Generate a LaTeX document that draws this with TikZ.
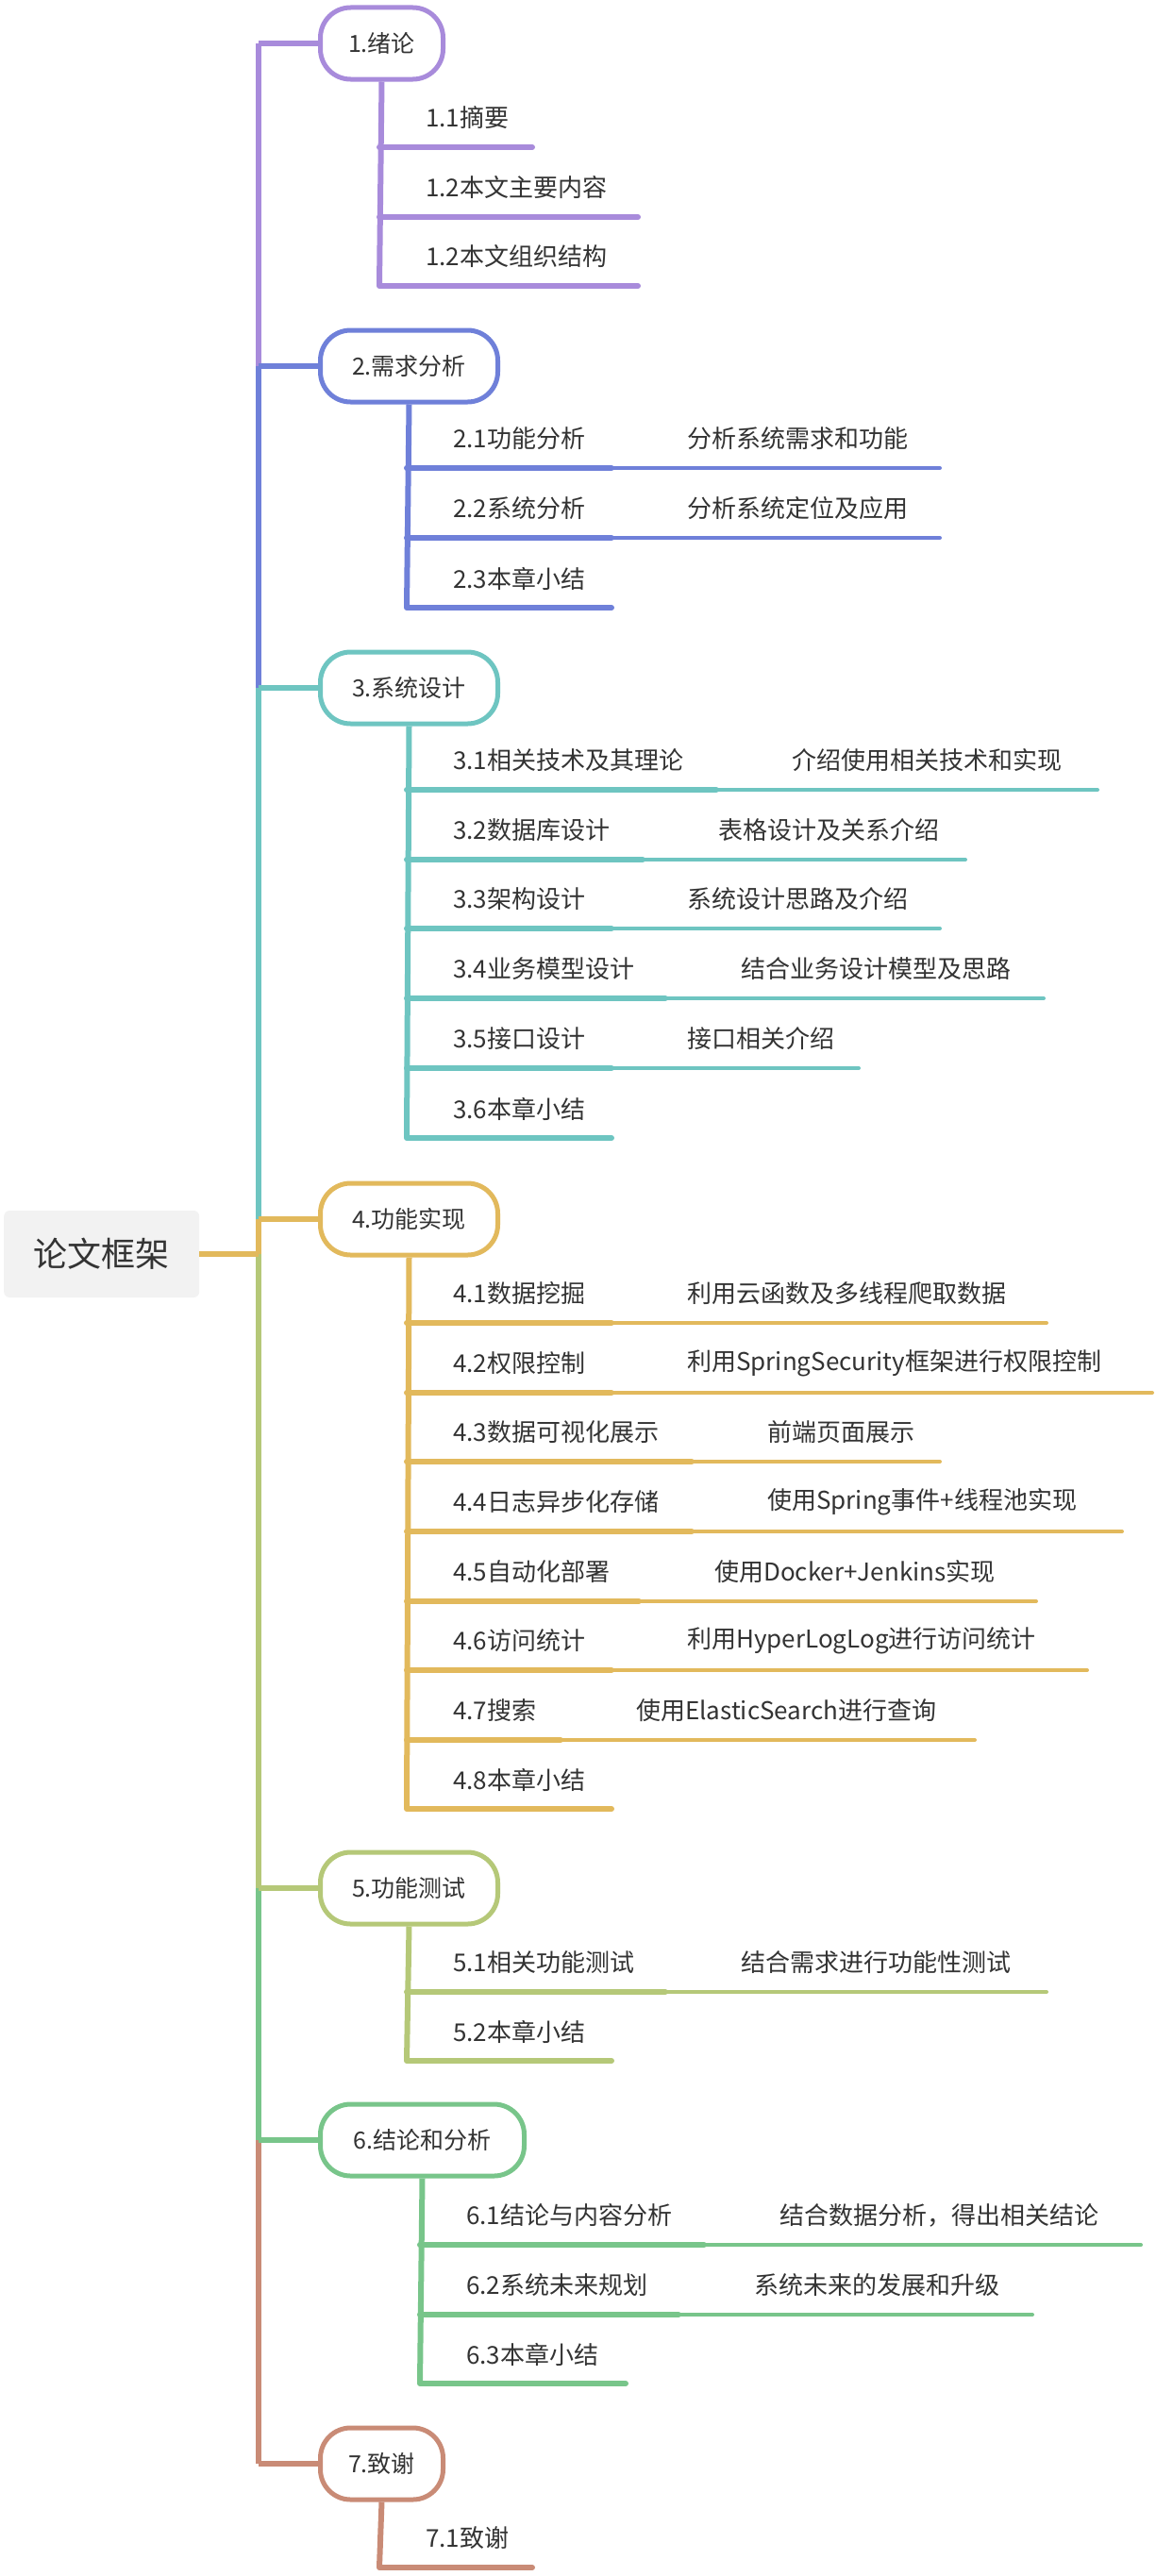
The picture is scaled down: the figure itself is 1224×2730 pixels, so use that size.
\documentclass[tikz,border=0pt]{standalone}
\usepackage{fontspec}
\setmainfont{Noto Sans CJK SC}
\definecolor{ca}{HTML}{A88BDB}
\definecolor{cb}{HTML}{6F80D9}
\definecolor{cc}{HTML}{6EC5C1}
\definecolor{cd}{HTML}{E2B95C}
\definecolor{ce}{HTML}{B5C878}
\definecolor{cf}{HTML}{78C58A}
\definecolor{cg}{HTML}{C98B76}
\definecolor{tx}{HTML}{333333}
\newcommand\leafA[7]{%
 \node[lbl] (#1) at (#4,#5-31) {#6};
 \coordinate (#1s) at (#3,#5); \coordinate (#1e) at (#7,#5);
 \draw[subl=#2] (#1s) -- (#1e);}
\newcommand\leafB[9]{%
 \node[lbl] (#1) at (#4,#5-31) {#6};
 \coordinate (#1s) at (#3,#5); \coordinate (#1m) at (#7,#5);
 \node[lbl] (#1d) at (#7+80,#5-31) {#8};
 \coordinate (#1e) at (#9,#5);
 \draw[thin line=#2] (#1m) -- (#1e);
 \draw[subl=#2] (#1s) -- (#1m);}
\begin{document}
\begin{tikzpicture}[x=1pt,y=-1pt,
 lbl/.style={anchor=west,inner sep=0pt,font=\fontsize{26}{30}\selectfont,text=tx},
 subl/.style={draw=#1,line width=6pt,line cap=round},
 thin line/.style={draw=#1,line width=4pt,line cap=round},
 mainl/.style={draw=#1,line width=6pt},
 chap/.style={draw=#1,line width=5pt,fill=white,rounded corners=32pt,minimum height=76pt,inner sep=0pt,text=tx,font=\fontsize{25}{30}\selectfont}]
\useasboundingbox (0,0) rectangle (1224,2730);
\coordinate (m) at (274,0);
% chapters
\node[chap=ca,minimum width=130pt,anchor=west] (c1) at (337,46) {1.绪论};
\node[chap=cb,minimum width=188pt,anchor=west] (c2) at (337,388) {2.需求分析};
\node[chap=cc,minimum width=188pt,anchor=west] (c3) at (337,729) {3.系统设计};
\node[chap=cd,minimum width=188pt,anchor=west] (c4) at (337,1292) {4.功能实现};
\node[chap=ce,minimum width=188pt,anchor=west] (c5) at (337,2001) {5.功能测试};
\node[chap=cf,minimum width=216pt,anchor=west] (c6) at (337,2268) {6.结论和分析};
\node[chap=cg,minimum width=130pt,anchor=west] (c7) at (337,2611) {7.致谢};
\node[fill=black!5,rounded corners=6pt,minimum width=207pt,minimum height=92pt,anchor=west,text=tx,font=\fontsize{36}{40}\selectfont] (root) at (4,1329) {论文框架};
% main trunk
\draw[mainl=ca] (m |- c1.west) -- (m |- c2.west);
\draw[mainl=cb] (m |- c2.west) -- (m |- c3.west);
\draw[mainl=cc] (m |- c3.west) -- (m |- c4.west);
\draw[mainl=cd] (m |- c4.west) -- (m |- root.east);
\draw[mainl=ce] (m |- root.east) -- (m |- c5.west);
\draw[mainl=cf] (m |- c5.west) -- (m |- c6.west);
\draw[mainl=cg] (m |- c6.west) -- (m |- c7.west);
\draw[mainl=cd] (root.east) -- (m |- root.east);
\foreach \i/\c in {1/ca,2/cb,3/cc,4/cd,5/ce,6/cf,7/cg}
  \draw[mainl=\c] (m |- c\i.west) -- (c\i.west);
% chapter 1
\leafA{a1}{ca}{402}{451}{156}{1.1摘要}{564}
\leafA{a2}{ca}{402}{451}{230}{1.2本文主要内容}{676}
\leafA{a3}{ca}{402}{451}{303}{1.2本文组织结构}{676}
\draw[mainl=ca] (c1.south) -- (a3s);
% chapter 2
\leafB{b1}{cb}{431}{480}{496}{2.1功能分析}{648}{分析系统需求和功能}{996}
\leafB{b2}{cb}{431}{480}{570}{2.2系统分析}{648}{分析系统定位及应用}{996}
\leafA{b3}{cb}{431}{480}{644}{2.3本章小结}{648}
\draw[mainl=cb] (c2.south) -- (b3s);
% chapter 3
\leafB{d1}{cc}{431}{480}{837}{3.1相关技术及其理论}{759}{介绍使用相关技术和实现}{1163}
\leafB{d2}{cc}{431}{480}{911}{3.2数据库设计}{681}{表格设计及关系介绍}{1023}
\leafB{d3}{cc}{431}{480}{984}{3.3架构设计}{648}{系统设计思路及介绍}{996}
\leafB{d4}{cc}{431}{480}{1058}{3.4业务模型设计}{705}{结合业务设计模型及思路}{1106}
\leafB{d5}{cc}{431}{480}{1132}{3.5接口设计}{648}{接口相关介绍}{910}
\leafA{d6}{cc}{431}{480}{1206}{3.6本章小结}{648}
\draw[mainl=cc] (c3.south) -- (d6s);
% chapter 4
\leafB{e1}{cd}{431}{480}{1402}{4.1数据挖掘}{648}{利用云函数及多线程爬取数据}{1109}
\leafB{e2}{cd}{431}{480}{1476}{4.2权限控制}{648}{利用SpringSecurity框架进行权限控制}{1221}
\leafB{e3}{cd}{431}{480}{1549}{4.3数据可视化展示}{733}{前端页面展示}{996}
\leafB{e4}{cd}{431}{480}{1623}{4.4日志异步化存储}{733}{使用Spring事件+线程池实现}{1189}
\leafB{e5}{cd}{431}{480}{1697}{4.5自动化部署}{677}{使用Docker+Jenkins实现}{1098}
\leafB{e6}{cd}{431}{480}{1770}{4.6访问统计}{648}{利用HyperLogLog进行访问统计}{1152}
\leafB{e7}{cd}{431}{480}{1844}{4.7搜索}{594}{使用ElasticSearch进行查询}{1033}
\leafA{e8}{cd}{431}{480}{1917}{4.8本章小结}{648}
\draw[mainl=cd] (c4.south) -- (e8s);
% chapter 5
\leafB{f1}{ce}{431}{480}{2111}{5.1相关功能测试}{705}{结合需求进行功能性测试}{1109}
\leafA{f2}{ce}{431}{480}{2184}{5.2本章小结}{648}
\draw[mainl=ce] (c5.south) -- (f2s);
% chapter 6
\leafB{g1}{cf}{445}{494}{2379}{6.1结论与内容分析}{746}{结合数据分析，得出相关结论}{1209}
\leafB{g2}{cf}{445}{494}{2453}{6.2系统未来规划}{719}{系统未来的发展和升级}{1094}
\leafA{g3}{cf}{445}{494}{2526}{6.3本章小结}{663}
\draw[mainl=cf] (c6.south) -- (g3s);
% chapter 7
\leafA{h1}{cg}{402}{451}{2721}{7.1致谢}{564}
\draw[mainl=cg] (c7.south) -- (h1s);
\end{tikzpicture}
\end{document}
